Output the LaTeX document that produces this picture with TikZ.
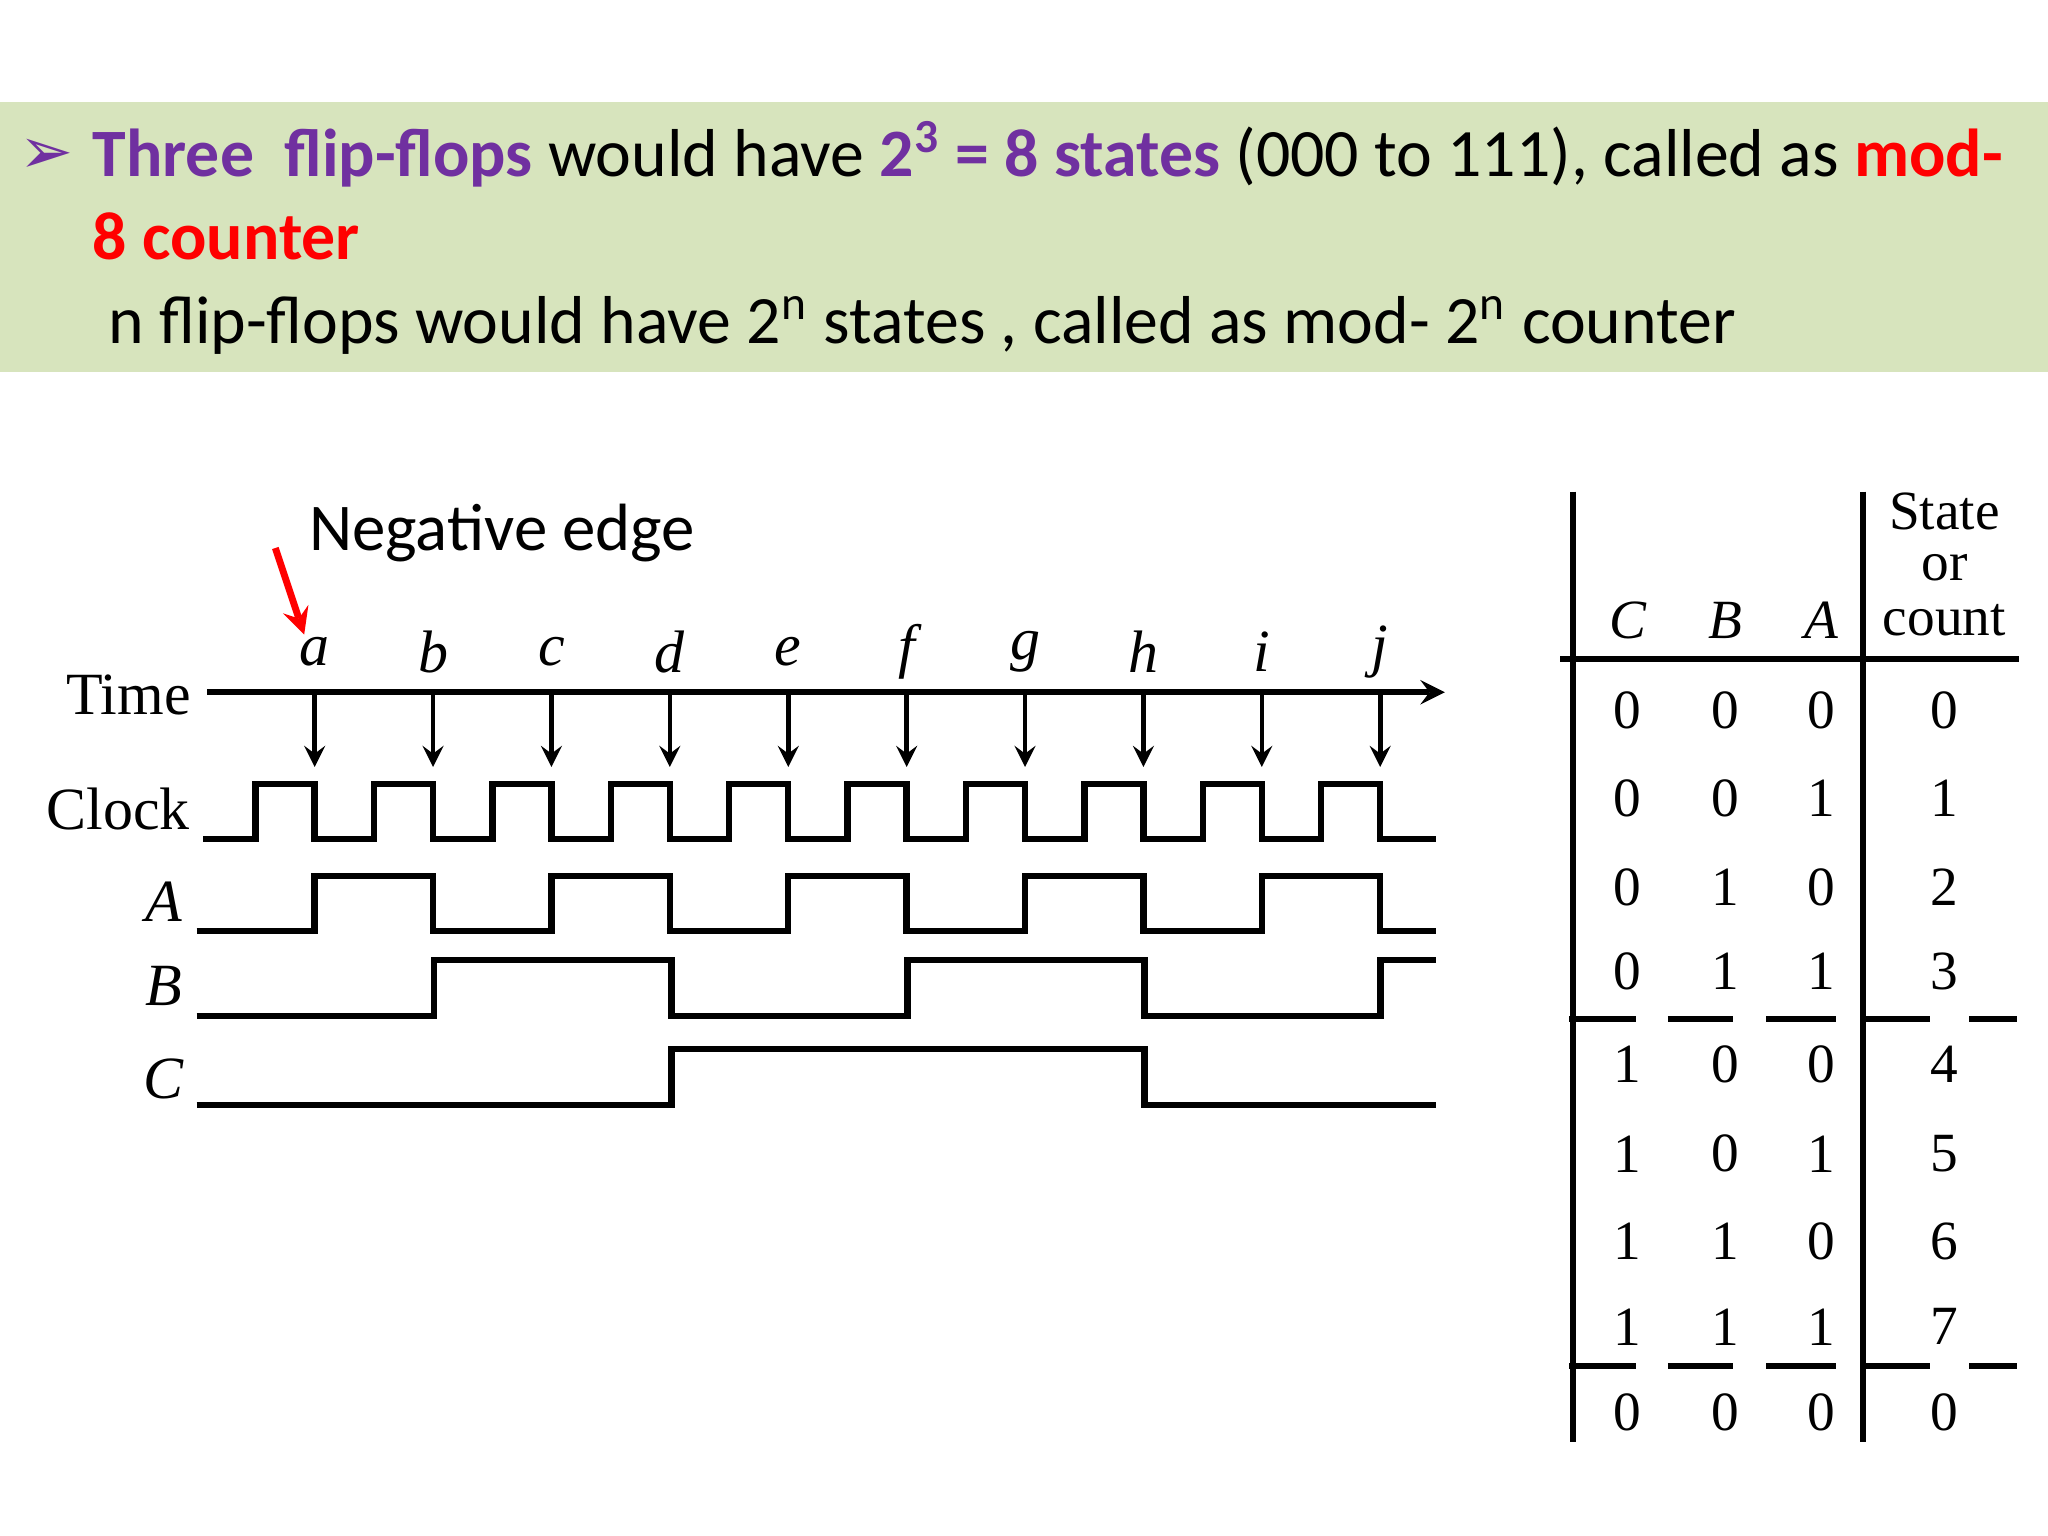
\documentclass[tikz,border=0pt]{standalone}
\usepackage{fontspec}
\setmainfont{Liberation Serif}
\newfontfamily\calfnt{Carlito}
\newfontfamily\djfnt{DejaVu Sans}
\definecolor{band}{HTML}{D7E4BD}
\definecolor{purp}{HTML}{7030A0}
\begin{document}
\begin{tikzpicture}[x=0.01cm,y=-0.01cm,
  wave/.style={line width=1.4pt},
  lbl/.style={font=\fontsize{13}{15}\selectfont},
  ilbl/.style={font=\itshape\fontsize{13}{15}\selectfont},
  tb/.style={font=\fontsize{12}{14}\selectfont},
  hd/.style={font=\calfnt\fontsize{14.7}{18}\selectfont,anchor=base west,inner sep=0}]
\useasboundingbox (0,0) rectangle (1562,1171);
\fill[band] (0,78) rectangle (1562,284);
\node[hd,text=purp] (bul) at (14,132) {\djfnt\fontsize{14}{16}\selectfont ➢};
\node[hd] (l1) at (70,135) {\textcolor{purp}{\textbf{Three\ \ flip-flops}} would have \textcolor{purp}{\textbf{2\textsuperscript{3} = 8 states}} (000 to 111), called as \textcolor{red}{\textbf{mod-}}};
\node[hd] (l2) at (70,198) {\textcolor{red}{\textbf{8 counter}}};
\node[hd] (l3) at (82,262) {n flip-flops would have 2\textsuperscript{n} states , called as mod- 2\textsuperscript{n} counter};
% timing
\node[hd,font=\calfnt\fontsize{14.5}{17}\selectfont] (neg) at (235,420) {Negative edge};
\coordinate (na) at (210,418); \coordinate (nb) at (232,484);
\draw[red,line width=1.5pt,-stealth] (na) -- (nb);
\node[lbl] (tl) at (98,530) {Time};
\node[lbl] (cl) at (90,617) {Clock};
\node[ilbl] (Al) at (125,688) {A};
\node[ilbl] (Bl) at (125,752) {B};
\node[ilbl] (Cl) at (125,823) {C};
\coordinate (t0) at (158,528); \coordinate (t1) at (1102,528);
\draw[line width=1.3pt,-stealth] (t0) -- (t1);
\foreach \n [count=\i from 0] in {a,b,c,d,e,f,g,h,i,j}{
  \pgfmathsetmacro\xx{240+90.3*\i}
  \node[ilbl] (e\n) at (\xx,497) {\n};
  \coordinate (s\n) at (\xx,530); \coordinate (f\n) at (\xx,585);
  \draw[line width=1pt,-stealth] (s\n) -- (f\n);
}
% clock
\draw[wave] (155,640) \foreach \i in {0,...,9}{ -- ({195+90.3*\i},640) -- ({195+90.3*\i},598) -- ({240+90.3*\i},598) -- ({240+90.3*\i},640)} -- (1095,640);
% A
\draw[wave] (150,710) \foreach \i in {0,2,4,6,8}{ -- ({240+90.3*\i},710) -- ({240+90.3*\i},668) -- ({330.3+90.3*\i},668) -- ({330.3+90.3*\i},710)} -- (1095,710);
% B
\draw[wave] (150,775) -- (331,775) -- (331,732) -- (512,732) -- (512,775) -- (692,775) -- (692,732) -- (873,732) -- (873,775) -- (1053,775) -- (1053,732) -- (1095,732);
% C
\draw[wave] (150,843) -- (512,843) -- (512,800) -- (873,800) -- (873,843) -- (1095,843);
% table
\draw[line width=1.3pt] (1200,375) -- (1200,1100);
\draw[line width=1.3pt] (1421,375) -- (1421,1100);
\draw[line width=1.3pt] (1190,503) -- (1540,503);
\node[tb,font=\itshape\fontsize{12}{14}\selectfont] (hC) at (1242,473) {C};
\node[tb,font=\itshape\fontsize{12}{14}\selectfont] (hB) at (1316,473) {B};
\node[tb,font=\itshape\fontsize{12}{14}\selectfont] (hA) at (1389,473) {A};
\node[tb] (s1) at (1483,390) {State};
\node[tb] (s2) at (1483,433) {or};
\node[tb] (s3) at (1483,473) {count};
\foreach \y/\c/\b/\a/\s [count=\r] in {542/0/0/0/0,609/0/0/1/1,677/0/1/0/2,741/0/1/1/3,812/1/0/0/4,880/1/0/1/5,947/1/1/0/6,1012/1/1/1/7,1077/0/0/0/0}{
  \node[tb] (rc\r) at (1241,\y) {\c};
  \node[tb] (rb\r) at (1316,\y) {\b};
  \node[tb] (ra\r) at (1389,\y) {\a};
  \node[tb] (rs\r) at (1483,\y) {\s};
}
\foreach \y in {777,1042}{
  \foreach \u/\v in {1197/1248,1272/1322,1347/1400,1422/1472,1502/1538}
    \draw[line width=1.2pt] (\u,\y) -- (\v,\y);
}
\end{tikzpicture}
\end{document}
